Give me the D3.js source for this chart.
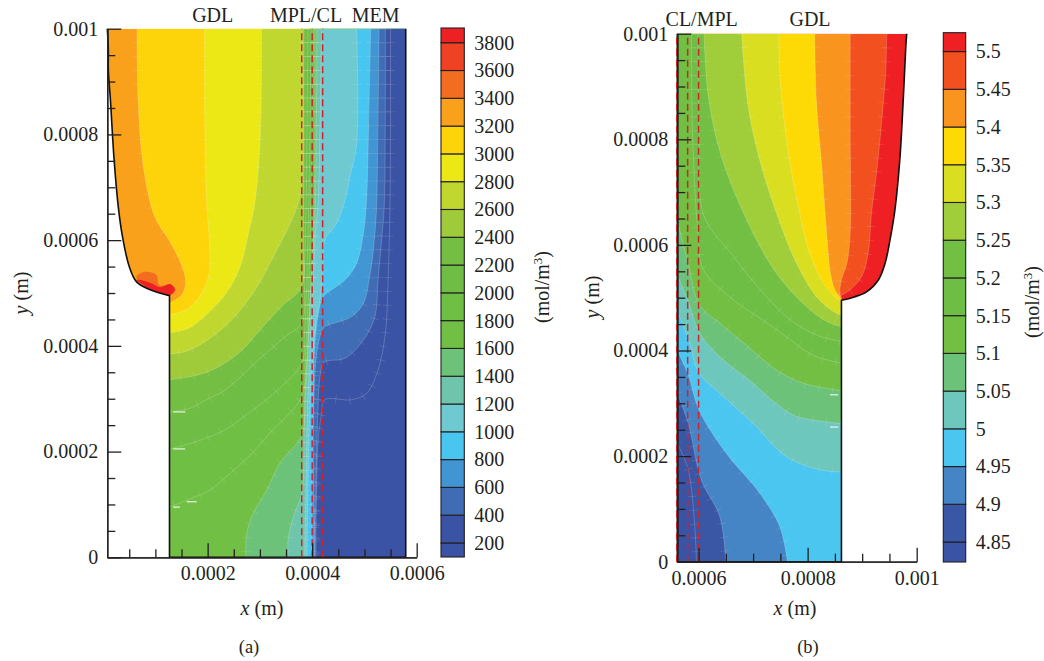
<!DOCTYPE html>
<html>
<head>
<meta charset="utf-8">
<script src="https://cdn.jsdelivr.net/npm/d3@7"></script>
<style>
  html, body { margin: 0; padding: 0; background: #fff; }
  text { font-family: "Liberation Serif", serif; font-size: 20px; fill: #231f20; }
  .axis path, .axis line { stroke: #231f20; stroke-width: 1.3; }
</style>
</head>
<body>
<div id="chart"></div>
<script>
// all lengths in micrometres, tick labels are printed in metres
var leftLevels = [200, 400, 600, 800, 1000, 1200, 1400, 1600, 1800, 2000, 2200, 2400, 2600, 2800, 3000, 3200, 3400, 3600, 3800];
var leftColors = ["#3a53a4", "#3b53a4", "#3f6cb4", "#4095d2", "#49c6f0", "#6fc9d1", "#6fc5ab", "#6dc27a", "#71bf44", "#6fbf45", "#6fbd45", "#74bf43", "#9fcb3b", "#c0d72f", "#ece815", "#fdd30a", "#f9a11b", "#f36d21", "#ef4123", "#ed2024"];
var rightLevels = [4.85, 4.9, 4.95, 5, 5.05, 5.1, 5.15, 5.2, 5.25, 5.3, 5.35, 5.4, 5.45, 5.5];
var rightColors = ["#3a53a4", "#3a57a6", "#4585c5", "#4bc6f0", "#6ec7bd", "#6dc27a", "#72bf44", "#6ebe45", "#72bf44", "#a0cd3a", "#d9df20", "#fdda06", "#f9941e", "#f3501f", "#ee2024"];

var leftEdge = [[8, 1000], [10, 960], [10, 922], [14, 865], [21, 752], [29, 663], [37, 607], [50, 550], [64, 521], [90, 506], [127, 495]];
var leftCorners = [[127, 0], [579, 0], [579, 1000]];
var rightEdge = [[981.7, 1000], [980, 975], [975, 868], [969, 761], [960, 666], [951, 609], [942, 565], [930, 534], [908, 511], [884, 501], [862, 495]];
var rightCorners = [[862, 0], [561, 0], [561, 1000]];

var leftHotSpot3400 = [[64, 533], [80, 540], [102, 534], [107, 515], [131, 515], [139, 505], [127, 495], [90, 506], [64, 521]];
var leftHotSpot3600 = [[64, 524], [70, 525], [93, 518], [109, 511], [128, 517], [137, 507], [127, 496], [90, 506]];

var iso3200 = [[65, 1000], [67, 865], [77, 739], [99, 644], [128, 597], [150, 553], [158, 521], [150, 496], [127, 481]];
var iso3000 = [[194, 1000], [195, 802], [198, 676], [204, 581], [203, 537], [188, 499], [163, 471], [127, 458]];
var iso2800 = [[303, 1000], [301, 802], [291, 676], [278, 613], [262, 550], [240, 506], [201, 462], [163, 433], [127, 425]];
var iso2600 = [[381, 1000], [381, 720], [375, 676], [358, 632], [329, 575], [291, 506], [246, 449], [195, 408], [157, 389], [127, 385]];
var iso2400 = [[384, 1000], [383, 600], [380, 512], [341, 474], [303, 433], [259, 386], [201, 351], [150, 339], [127, 336]];
var iso2200 = [[392, 1000], [389, 700], [385, 540], [380, 443], [348, 417], [297, 373], [233, 316], [198, 298], [166, 282], [127, 275]];
var iso2000 = [[398, 1000], [394, 700], [389, 500], [385, 420], [380, 367], [319, 304], [281, 275], [243, 247], [211, 231], [172, 217], [127, 205]];
var iso1800 = [[402, 1000], [398, 700], [393, 500], [387, 380], [380, 304], [319, 235], [278, 190], [243, 159], [204, 127], [160, 108], [127, 95]];
var iso1600 = [[405, 1000], [404, 668], [399, 550], [394, 455], [389, 360], [385, 300], [380, 231], [338, 178], [313, 127], [287, 83], [275, 45], [273, 0]];
var iso1400 = [[409, 1000], [406, 668], [400, 550], [395, 455], [390, 360], [385, 250], [380, 121], [364, 77], [354, 33], [354, 0]];
var iso1200 = [[418, 1000], [415, 820], [411, 668], [406, 613], [402, 518], [397, 424], [394, 348], [391, 279], [388, 120], [386, 20], [386, 0]];
var iso1000 = [[485, 1000], [485, 782], [472, 719], [463, 676], [447, 632], [424, 600], [421, 562], [415, 487], [408, 449], [402, 392], [399, 348], [396, 290], [392, 150], [390, 0]];
var iso800 = [[512, 1000], [508, 820], [504, 676], [498, 613], [485, 556], [463, 525], [424, 496], [418, 487], [405, 405], [402, 300], [400, 150], [400, 0]];
var iso600 = [[528, 1000], [525, 757], [523, 657], [517, 581], [510, 531], [498, 480], [475, 455], [424, 436], [418, 427], [408, 380], [402, 234], [405, 20], [404, 0]];
var iso400 = [[540, 1000], [538, 668], [534, 613], [526, 525], [520, 455], [498, 411], [462, 376], [431, 372], [421, 367], [415, 342], [410, 250], [405, 0]];
var iso200 = [[550, 1000], [549, 676], [545, 518], [540, 424], [526, 354], [504, 310], [475, 298], [424, 298], [418, 272], [411, 216], [408, 100], [407, 0]];
var leftIsolines = [iso3200, iso3000, iso2800, iso2600, iso2400, iso2200, iso2000, iso1800, iso1600, iso1400, iso1200, iso1000, iso800, iso600, iso400, iso200];

var iso550 = [[945, 1000], [943, 925], [936, 837], [927, 742], [917, 660], [911, 584], [899, 540], [878, 515], [862, 505]];
var iso545 = [[878, 1000], [878, 811], [878, 622], [872, 565], [862, 534], [859, 508], [862, 500]];
var iso540 = [[813, 1000], [816, 875], [826, 748], [835, 622], [842, 546], [850, 515], [860, 500], [862, 497]];
var iso535 = [[747, 1000], [750, 906], [764, 780], [783, 672], [804, 584], [829, 527], [847, 505], [862, 490]];
var iso530 = [[679, 1000], [691, 862], [712, 761], [743, 660], [777, 571], [816, 502], [847, 474], [862, 467]];
var iso525 = [[610, 1000], [618, 881], [642, 767], [694, 635], [743, 546], [798, 483], [835, 455], [862, 445]];
var iso520 = [[599, 1000], [601, 811], [609, 657], [664, 578], [719, 508], [768, 458], [817, 429], [862, 417]];
var iso515 = [[587, 1000], [589, 811], [599, 622], [609, 553], [664, 496], [712, 462], [761, 426], [810, 391], [862, 376]];
var iso510 = [[561, 647], [581, 565], [602, 486], [639, 452], [688, 410], [743, 363], [792, 338], [862, 324]];
var iso505 = [[561, 543], [581, 493], [602, 433], [639, 388], [700, 338], [743, 299], [780, 275], [862, 262]];
var iso500 = [[561, 474], [581, 423], [601, 357], [639, 319], [700, 262], [761, 199], [823, 174], [862, 170]];
var iso495 = [[561, 400], [581, 354], [601, 287], [651, 205], [712, 130], [749, 66], [763, 0]];
var iso490 = [[561, 319], [581, 262], [605, 155], [639, 85], [650, 0]];
var iso485 = [[561, 224], [581, 174], [593, 66], [596, 0]];
var rightIsolines = [iso550, iso545, iso540, iso535, iso530, iso525, iso520, iso515, iso510, iso505, iso500, iso495, iso490, iso485];

var leftDashes = [[[134, 275], [157, 275]], [[134, 205], [157, 205]], [[134, 95], [147, 95]], [[160, 105], [179, 105]]];
var rightDashes = [[[841, 316], [856, 316]], [[841, 255], [856, 255]]];

var leftLayerX = [380, 400, 420];
var rightLayerX = [560, 580, 600];
var leftXTicks = [200, 400, 600];
var rightXTicks = [600, 800, 1000];
var yTicks = [0, 200, 400, 600, 800, 1000];

var svg = d3.select("#chart").append("svg").attr("width", 1044).attr("height", 661);

function toMetres(d) { return d === 0 ? "0" : String(d / 1e6); }

function drawPanel(o) {
    var x = d3.scaleLinear().domain(o.xDomain).range(o.xRange),
        y = d3.scaleLinear().domain([0, 1000]).range(o.yRange);

    var line = d3.line()
        .x(function(d) { return x(d[0]); })
        .y(function(d) { return y(d[1]); })
        .curve(d3.curveCatmullRom.alpha(0.5));
    var straight = d3.line()
        .x(function(d) { return x(d[0]); })
        .y(function(d) { return y(d[1]); });

    var outline = line(o.edge) + straight(o.corners).replace("M", "L");

    svg.append("clipPath").attr("id", o.id + "-clip")
        .append("path").attr("d", outline + "Z");

    var g = svg.append("g").attr("clip-path", "url(#" + o.id + "-clip)");

    g.append("path")
        .attr("d", outline + "Z")
        .attr("fill", o.background);

    (o.spots || []).forEach(function(s) {
        g.append("path").attr("d", line(s.points) + "Z").attr("fill", s.color);
    });

    // paint each band over the previous one, isoline out to the far side of the domain
    o.isolines.forEach(function(iso, i) {
        var closing = straight([[o.wall, 0], [o.farX, 0], [o.farX, 1000]]).replace("M", "L");
        g.append("path")
            .attr("d", line(iso) + closing + "Z")
            .attr("fill", o.fills[i]);
    });

    // contour lines with the little mesh ticks across them
    g.selectAll("path.iso").data(o.isolines).enter().append("path")
        .attr("class", "iso")
        .attr("d", line)
        .attr("fill", "none")
        .attr("stroke", "#fff")
        .attr("stroke-opacity", 0.25)
        .attr("stroke-width", 0.8);
    g.selectAll("path.hatch").data(o.isolines).enter().append("path")
        .attr("class", "hatch")
        .attr("d", line)
        .attr("fill", "none")
        .attr("stroke", "#fff")
        .attr("stroke-opacity", 0.13)
        .attr("stroke-width", 9)
        .attr("stroke-dasharray", "0.8 13");

    g.selectAll("path.dash").data(o.dashes).enter().append("path")
        .attr("class", "dash")
        .attr("d", straight)
        .attr("stroke", "#fff")
        .attr("stroke-width", 1);

    svg.append("path")
        .attr("d", outline)
        .attr("fill", "none")
        .attr("stroke", "#111")
        .attr("stroke-width", 1.6);

    o.layerX.forEach(function(v) {
        svg.append("line")
            .attr("x1", x(v)).attr("x2", x(v))
            .attr("y1", y(0)).attr("y2", y(1000))
            .attr("stroke", "#d2232a")
            .attr("stroke-width", 1.5)
            .attr("stroke-dasharray", "7 4");
    });

    var minorY = d3.range(50, 1000, 50).filter(function(d) { return yTicks.indexOf(d) < 0; }),
        minorX = d3.range(50, 1000, 50).filter(function(d) { return d > o.xDomain[0] && d < o.xDomain[1] && o.xTicks.indexOf(d) < 0; });

    svg.append("g").attr("class", "axis")
        .attr("transform", "translate(" + x(o.xDomain[0]) + ",0)")
        .call(d3.axisLeft(y).tickValues(yTicks).tickFormat(toMetres).tickSize(-14).tickSizeOuter(0).tickPadding(9));
    svg.append("g").attr("class", "axis")
        .attr("transform", "translate(" + x(o.xDomain[0]) + ",0)")
        .call(d3.axisLeft(y).tickValues(minorY).tickFormat("").tickSize(-8).tickSizeOuter(0));
    svg.append("g").attr("class", "axis")
        .attr("transform", "translate(0," + y(0) + ")")
        .call(d3.axisBottom(x).tickValues(o.xTicks).tickFormat(toMetres).tickSize(-14).tickSizeOuter(0).tickPadding(9));
    svg.append("g").attr("class", "axis")
        .attr("transform", "translate(0," + y(0) + ")")
        .call(d3.axisBottom(x).tickValues(minorX).tickFormat("").tickSize(-8).tickSizeOuter(0));

    o.labels.forEach(function(l) {
        svg.append("text").attr("x", l[1]).attr("y", l[2]).attr("text-anchor", "middle").text(l[0]);
    });

    var xt = svg.append("text").attr("x", o.xTitle[0]).attr("y", o.xTitle[1]).attr("text-anchor", "middle");
    xt.append("tspan").attr("font-style", "italic").text("x");
    xt.append("tspan").text(" (m)");

    var yt = svg.append("text").attr("text-anchor", "middle")
        .attr("transform", "translate(" + o.yTitle[0] + "," + o.yTitle[1] + ") rotate(-90)");
    yt.append("tspan").attr("font-style", "italic").text("y");
    yt.append("tspan").text(" (m)");

    svg.append("text").attr("x", o.caption[1]).attr("y", o.caption[2])
        .attr("text-anchor", "middle").style("font-size", "18.5px").text(o.caption[0]);

    // colour bar
    var c = d3.scaleLinear().domain(o.barDomain).range(o.barRange),
        edges = [o.barDomain[0]].concat(o.levels, [o.barDomain[1]]);

    svg.append("g").selectAll("rect").data(o.barColors).enter().append("rect")
        .attr("x", o.barX)
        .attr("width", o.barW)
        .attr("y", function(d, i) { return c(edges[i + 1]); })
        .attr("height", function(d, i) { return c(edges[i]) - c(edges[i + 1]); })
        .attr("fill", function(d) { return d; })
        .attr("stroke", "#231f20")
        .attr("stroke-width", 1.1);

    svg.append("g").attr("class", "axis")
        .attr("transform", "translate(" + (o.barX + o.barW) + ",0)")
        .call(d3.axisRight(c).tickValues(o.levels).tickFormat(function(d) { return String(d); }).tickSize(0).tickPadding(10))
        .select(".domain").remove();

    var bt = svg.append("text").attr("text-anchor", "middle")
        .attr("transform", "translate(" + o.barTitle[0] + "," + o.barTitle[1] + ") rotate(-90)");
    bt.append("tspan").text("(mol/m");
    bt.append("tspan").attr("dy", -7).style("font-size", "13px").text("3");
    bt.append("tspan").attr("dy", 7).text(")");
}

drawPanel({
    id: "left",
    xDomain: [8, 600], xRange: [107.3, 416.7], yRange: [557.3, 28.7],
    xTicks: leftXTicks,
    edge: leftEdge, corners: leftCorners,
    background: leftColors[16],
    spots: [{points: leftHotSpot3400, color: leftColors[17]}, {points: leftHotSpot3600, color: leftColors[19]}],
    isolines: leftIsolines,
    fills: leftColors.slice(0, 16).reverse(),
    wall: 127, farX: 579,
    dashes: leftDashes,
    layerX: leftLayerX,
    labels: [["GDL", 212.7, 22], ["MPL/CL", 306, 22], ["MEM", 375.7, 22]],
    xTitle: [262, 615], yTitle: [28, 293],
    caption: ["(a)", 249, 653],
    levels: leftLevels, barColors: leftColors,
    barDomain: [99, 3906], barRange: [557, 28], barX: 441, barW: 23.3,
    barTitle: [549, 287]
});

drawPanel({
    id: "right",
    xDomain: [561, 1000], xRange: [677.3, 916.7], yRange: [561.7, 33.7],
    xTicks: rightXTicks,
    edge: rightEdge, corners: rightCorners,
    background: rightColors[14],
    isolines: rightIsolines,
    fills: rightColors.slice(0, 14).reverse(),
    wall: 862, farX: 561,
    dashes: rightDashes,
    layerX: rightLayerX,
    labels: [["CL/MPL", 701.7, 26], ["GDL", 810, 26]],
    xTitle: [795, 615], yTitle: [599, 297],
    caption: ["(b)", 808, 653],
    levels: rightLevels, barColors: rightColors,
    barDomain: [4.8235, 5.525], barRange: [562, 32.7], barX: 943.3, barW: 22.4,
    barTitle: [1039, 302]
});
</script>
</body>
</html>
